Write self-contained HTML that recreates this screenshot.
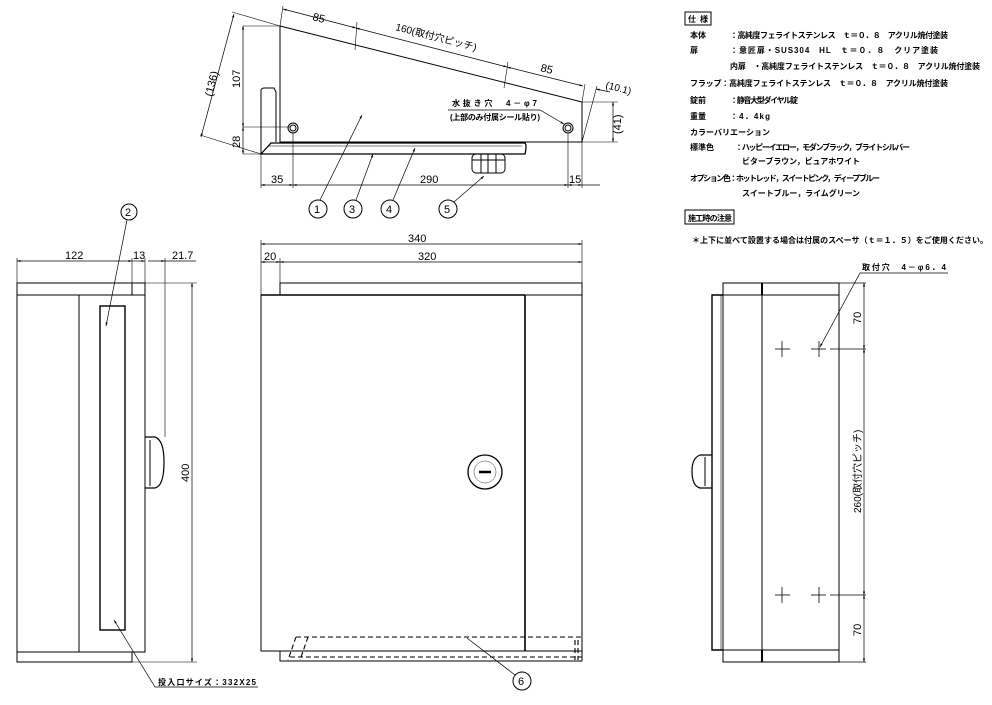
<!DOCTYPE html>
<html><head><meta charset="utf-8"><style>
html,body{margin:0;padding:0;background:#fff;}
svg{display:block;}
text{font-family:"Liberation Sans","Noto Sans CJK JP",sans-serif;fill:#000;}
.s{font-size:8px;font-weight:bold;}
.d{font-size:11px;}
</style></head><body>
<svg width="992" height="705" viewBox="0 0 992 705" xmlns="http://www.w3.org/2000/svg">
<defs>
<marker id="a" viewBox="0 0 10 10" refX="10" refY="5" markerWidth="7" markerHeight="5" orient="auto-start-reverse"><path d="M0,2 L10,5 L0,8 z" fill="#000"/></marker>
</defs>
<g stroke="#000" stroke-width="1" fill="none">
<!-- ===== TOP VIEW ===== -->
<path d="M280,26 L582,102 L582,142 L280,142 Z"/>
<line x1="280" y1="26" x2="280" y2="142"/>
<path d="M261,154 L261,90 Q262,88 264,88 L274,88 L276,92 L276,142"/>
<path d="M261,154 L271,143 L525,143 Q527,145 525,154 Z" stroke-width="1.3"/>
<line x1="269" y1="146" x2="522" y2="146" stroke-width="0.6"/>
<circle cx="293" cy="128" r="5"/><circle cx="293" cy="128" r="3"/>
<circle cx="568" cy="128" r="5"/><circle cx="568" cy="128" r="3"/>
<rect x="472" y="154" width="33" height="19" rx="4"/>
<line x1="481" y1="154" x2="481" y2="173"/><line x1="488" y1="154" x2="488" y2="173"/><line x1="496" y1="154" x2="496" y2="173"/>
<line x1="472" y1="160" x2="505" y2="160"/>
<!-- dims top -->
<line x1="243" y1="26" x2="280" y2="26" stroke-width="0.6"/>
<line x1="243" y1="127" x2="290" y2="127" stroke-width="0.6"/>
<line x1="243" y1="154" x2="261" y2="154" stroke-width="0.6"/>
<line x1="243" y1="26" x2="243" y2="127" marker-start="url(#a)" marker-end="url(#a)" stroke-width="0.7"/>
<line x1="243" y1="127" x2="243" y2="154" marker-start="url(#a)" marker-end="url(#a)" stroke-width="0.7"/>
<line x1="261" y1="154" x2="200" y2="135" stroke-width="0.6"/>
<line x1="280" y1="26" x2="232" y2="12" stroke-width="0.6"/>
<line x1="234" y1="14" x2="201" y2="137" marker-start="url(#a)" marker-end="url(#a)" stroke-width="0.7"/>
<line x1="280" y1="26" x2="283" y2="6" stroke-width="0.6"/>
<line x1="582" y1="102" x2="585" y2="84" stroke-width="0.6"/>
<line x1="582" y1="142" x2="597" y2="86" stroke-width="0.6"/>
<line x1="283" y1="9" x2="356" y2="28" marker-start="url(#a)" marker-end="url(#a)" stroke-width="0.7"/>
<line x1="356" y1="28" x2="507" y2="67" marker-start="url(#a)" marker-end="url(#a)" stroke-width="0.7"/>
<line x1="507" y1="67" x2="583" y2="86" marker-start="url(#a)" marker-end="url(#a)" stroke-width="0.7"/>
<line x1="596" y1="89" x2="610" y2="92" marker-start="url(#a)" stroke-width="0.7"/>
<line x1="357" y1="22" x2="355" y2="50" stroke-width="0.6"/>
<line x1="508" y1="62" x2="504" y2="88" stroke-width="0.6"/>
<line x1="582" y1="102" x2="618" y2="102" stroke-width="0.6"/>
<line x1="582" y1="142" x2="618" y2="142" stroke-width="0.6"/>
<line x1="613" y1="102" x2="613" y2="142" marker-start="url(#a)" marker-end="url(#a)" stroke-width="0.7"/>
<line x1="293" y1="133" x2="293" y2="188" stroke-width="0.6"/>
<line x1="568" y1="133" x2="568" y2="188" stroke-width="0.6"/>
<line x1="261" y1="154" x2="261" y2="188" stroke-width="0.6"/>
<line x1="582" y1="142" x2="582" y2="188" stroke-width="0.6"/>
<line x1="261" y1="185" x2="293" y2="185" marker-start="url(#a)" marker-end="url(#a)" stroke-width="0.7"/>
<line x1="293" y1="185" x2="568" y2="185" marker-start="url(#a)" marker-end="url(#a)" stroke-width="0.7"/>
<line x1="568" y1="185" x2="582" y2="185" marker-start="url(#a)" marker-end="url(#a)" stroke-width="0.7"/>
<line x1="582" y1="185" x2="600" y2="185" stroke-width="0.7"/>
<!-- balloons top -->
<circle cx="318" cy="209" r="9"/><circle cx="353" cy="209" r="9"/><circle cx="390" cy="209" r="9"/><circle cx="448" cy="209" r="9"/>
<line x1="320" y1="200" x2="362" y2="115" marker-end="url(#a)" stroke-width="0.7"/>
<line x1="356" y1="200" x2="373" y2="154" marker-end="url(#a)" stroke-width="0.7"/>
<line x1="393" y1="200" x2="415" y2="148" marker-end="url(#a)" stroke-width="0.7"/>
<line x1="454" y1="202" x2="484" y2="176" marker-end="url(#a)" stroke-width="0.7"/>
<polyline points="448,110 540,110 564,124" stroke-width="0.7" marker-end="url(#a)"/>

<!-- ===== LEFT SIDE VIEW ===== -->
<rect x="17" y="283" width="128" height="12"/>
<rect x="17" y="295" width="128" height="357"/>
<line x1="79" y1="295" x2="79" y2="652"/>
<path d="M17,652 L17,662 L132,662 L132,652"/>
<line x1="132" y1="283" x2="132" y2="295"/>
<rect x="100" y="306" width="25" height="324" stroke-width="1.4"/>
<path d="M145,437 L155,437 Q164,440 164,462 Q164,486 155,488 L145,488" stroke-width="1.2"/>
<line x1="150" y1="440" x2="150" y2="486"/>
<line x1="17" y1="258" x2="17" y2="283" stroke-width="0.6"/>
<line x1="132" y1="258" x2="132" y2="283" stroke-width="0.6"/>
<line x1="145" y1="258" x2="145" y2="283" stroke-width="0.6"/>
<line x1="165" y1="258" x2="165" y2="437" stroke-width="0.6"/>
<line x1="17" y1="261" x2="132" y2="261" marker-start="url(#a)" marker-end="url(#a)" stroke-width="0.7"/>
<line x1="132" y1="261" x2="145" y2="261" marker-end="url(#a)" stroke-width="0.7"/>
<line x1="148" y1="261" x2="165" y2="261" marker-end="url(#a)" stroke-width="0.7"/>
<line x1="165" y1="261" x2="196" y2="261" stroke-width="0.7"/>
<line x1="145" y1="283" x2="197" y2="283" stroke-width="0.6"/>
<line x1="132" y1="662" x2="197" y2="662" stroke-width="0.6"/>
<line x1="192" y1="283" x2="192" y2="662" marker-start="url(#a)" marker-end="url(#a)" stroke-width="0.7"/>
<circle cx="129" cy="212" r="8"/>
<line x1="127" y1="220" x2="106" y2="326" marker-end="url(#a)" stroke-width="0.7"/>
<polyline points="258,687 155,687 114,620" marker-end="url(#a)" stroke-width="0.7"/>

<!-- ===== FRONT VIEW ===== -->
<line x1="261" y1="240" x2="261" y2="295" stroke-width="0.6"/>
<line x1="280" y1="258" x2="280" y2="295" stroke-width="0.6"/>
<line x1="582" y1="240" x2="582" y2="283" stroke-width="0.6"/>
<line x1="261" y1="244" x2="582" y2="244" marker-start="url(#a)" marker-end="url(#a)" stroke-width="0.7"/>
<line x1="261" y1="262" x2="280" y2="262" marker-start="url(#a)" marker-end="url(#a)" stroke-width="0.7"/>
<line x1="280" y1="262" x2="582" y2="262" marker-start="url(#a)" marker-end="url(#a)" stroke-width="0.7"/>
<rect x="280" y="283" width="302" height="12"/>
<rect x="261" y="295" width="321" height="356"/>
<line x1="525" y1="295" x2="525" y2="651" stroke-width="1.6"/>
<line x1="261" y1="295" x2="525" y2="295" stroke-width="1.4"/>
<path d="M280,651 L280,661 L582,661 L582,651"/>
<circle cx="485" cy="472" r="17" stroke-width="1.3"/>
<circle cx="485" cy="472" r="11" stroke-width="0.4"/>
<line x1="479" y1="472" x2="491" y2="472" stroke-width="2.5"/>
<g stroke-dasharray="5,3" stroke-width="1.1">
<line x1="296" y1="637" x2="582" y2="637"/>
<line x1="290" y1="657" x2="582" y2="657"/>
<line x1="296" y1="637" x2="288" y2="660"/>
<line x1="308" y1="637" x2="300" y2="660"/>
<line x1="575" y1="640" x2="575" y2="660"/>
<line x1="578" y1="640" x2="578" y2="660"/>
</g>
<circle cx="522" cy="681" r="9"/>
<line x1="515" y1="675" x2="467" y2="638" stroke-width="0.7"/>

<!-- ===== RIGHT VIEW ===== -->
<rect x="723" y="283" width="116" height="379"/>
<line x1="723" y1="295" x2="839" y2="295"/>
<line x1="723" y1="650" x2="839" y2="650"/>
<line x1="762" y1="283" x2="762" y2="662"/>
<line x1="762" y1="283" x2="762" y2="295" stroke-width="2"/>
<line x1="762" y1="650" x2="762" y2="662" stroke-width="2"/>
<path d="M723,295 L712,295 L712,650 L723,650" stroke-width="1.4"/>
<line x1="721" y1="295" x2="721" y2="650" stroke-width="0.6"/>
<path d="M712,455 L700,455 Q692,458 692,471 Q692,486 700,488 L712,488" stroke-width="1.2"/>
<line x1="705" y1="457" x2="705" y2="486"/>
<g stroke-width="0.8">
<line x1="775" y1="349" x2="790" y2="349"/><line x1="782" y1="341" x2="782" y2="357"/>
<line x1="811" y1="349" x2="826" y2="349"/><line x1="819" y1="341" x2="819" y2="357"/>
<line x1="775" y1="595" x2="790" y2="595"/><line x1="782" y1="587" x2="782" y2="603"/>
<line x1="811" y1="595" x2="826" y2="595"/><line x1="819" y1="587" x2="819" y2="603"/>
<line x1="830" y1="349" x2="866" y2="349"/>
<line x1="830" y1="595" x2="866" y2="595"/>
<line x1="839" y1="283" x2="866" y2="283"/>
<line x1="839" y1="662" x2="866" y2="662"/>
</g>
<line x1="864" y1="283" x2="864" y2="349" marker-start="url(#a)" marker-end="url(#a)" stroke-width="0.7"/>
<line x1="864" y1="349" x2="864" y2="595" marker-start="url(#a)" marker-end="url(#a)" stroke-width="0.7"/>
<line x1="864" y1="595" x2="864" y2="662" marker-start="url(#a)" marker-end="url(#a)" stroke-width="0.7"/>
<polyline points="948,273 860,273 820,347" marker-end="url(#a)" stroke-width="0.7"/>

<!-- spec boxes -->
<rect x="685" y="12" width="26" height="13"/>
<rect x="685" y="210" width="49" height="14"/>
</g>

<!-- ===== TEXT ===== -->
<g class="d">
<text x="312" y="20" transform="rotate(14.5 312 20)">85</text>
<text x="395" y="30" transform="rotate(14.5 395 30)" font-size="10">160(取付穴ピッチ)</text>
<text x="540" y="71" transform="rotate(14.5 540 71)">85</text>
<text x="605" y="88" transform="rotate(14.5 605 88)" font-size="10">(10.1)</text>
<text x="240" y="88" transform="rotate(-90 240 88)">107</text>
<text x="240" y="148" transform="rotate(-90 240 148)">28</text>
<text x="212" y="97" transform="rotate(-76 212 97)">(136)</text>
<text x="621" y="134" transform="rotate(-90 621 134)">(41)</text>
<text x="271" y="183">35</text>
<text x="420" y="183">290</text>
<text x="569" y="183">15</text>
<text x="314" y="213">1</text><text x="349" y="213">3</text><text x="386" y="213">4</text><text x="444" y="213">5</text>
<text x="65" y="259">122</text>
<text x="133" y="259">13</text>
<text x="172" y="259">21.7</text>
<text x="189" y="482" transform="rotate(-90 189 482)">400</text>
<text x="125" y="216">2</text>
<text x="408" y="242">340</text>
<text x="264" y="260">20</text>
<text x="418" y="260">320</text>
<text x="518" y="685">6</text>
<text x="861" y="324" transform="rotate(-90 861 324)">70</text>
<text x="861" y="636" transform="rotate(-90 861 636)">70</text>
<text x="861" y="513" transform="rotate(-90 861 513)" font-size="10">260(取付穴ピッチ)</text>
</g>
<g class="s">
<text x="452" y="106" font-size="8" textLength="85">水抜き穴　4－φ7</text>
<text x="450" y="120" font-size="8" textLength="90">(上部のみ付属シール貼り)</text>
<text x="862" y="270" textLength="84">取付穴　4－φ6．4</text>
<text x="158" y="685" textLength="98">投入口サイズ：332X25</text>
<text x="688" y="22" textLength="20">仕様</text>
<text x="690" y="38"><tspan>本体</tspan><tspan x="730" textLength="218">：高純度フェライトステンレス　ｔ＝０．８　アクリル焼付塗装</tspan></text>
<text x="690" y="53"><tspan>扉</tspan><tspan x="730" textLength="208">：意匠扉・SUS304　HL　ｔ＝０．８　クリア塗装</tspan></text>
<text x="730" y="69" textLength="250">内扉　・高純度フェライトステンレス　ｔ＝０．８　アクリル焼付塗装</text>
<text x="690" y="86" textLength="258">フラップ：高純度フェライトステンレス　ｔ＝０．８　アクリル焼付塗装</text>
<text x="690" y="103"><tspan>錠前</tspan><tspan x="730" textLength="68">：静音大型ダイヤル錠</tspan></text>
<text x="690" y="119"><tspan>重量</tspan><tspan x="730" textLength="40">：4．4kg</tspan></text>
<text x="690" y="135" textLength="80">カラーバリエーション</text>
<text x="690" y="150"><tspan>標準色</tspan><tspan x="735" textLength="175">：ハッピーイエロー，モダンブラック，ブライトシルバー</tspan></text>
<text x="742" y="164" textLength="118">ビターブラウン，ピュアホワイト</text>
<text x="690" y="181" textLength="190">オプション色：ホットレッド，スイートピンク，ディープブルー</text>
<text x="742" y="196" textLength="118">スイートブルー，ライムグリーン</text>
<text x="688" y="221" textLength="44">施工時の注意</text>
<text x="692" y="243" textLength="296">＊上下に並べて設置する場合は付属のスペーサ（ｔ＝１．５）をご使用ください。</text>
</g>
</svg>
</body></html>
